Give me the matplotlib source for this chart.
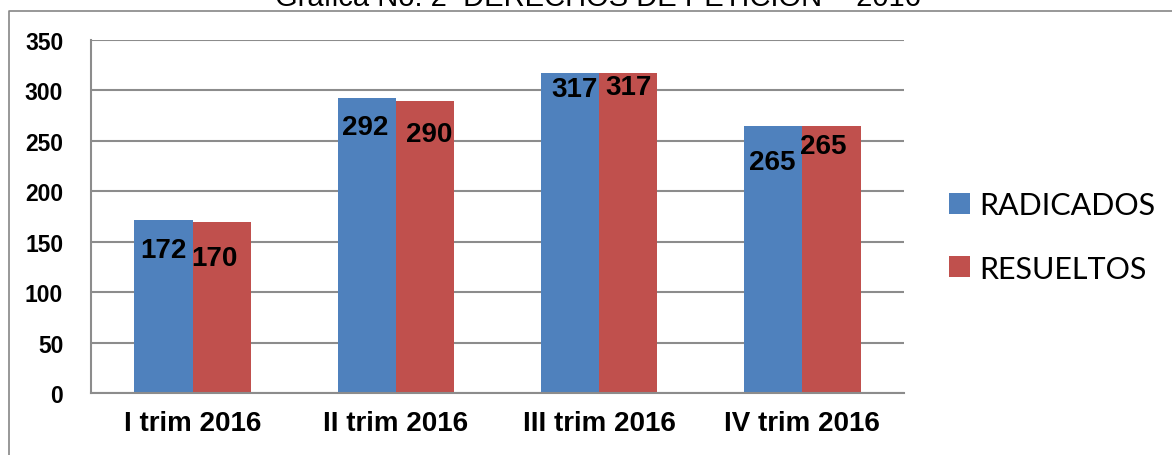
import numpy as np
import matplotlib.pyplot as plt
from matplotlib.lines import Line2D

# data
categories = ['I trim 2016', 'II trim 2016', 'III trim 2016', 'IV trim 2016']
radicados = [172, 292, 317, 265]
resueltos = [170, 290, 317, 265]
series_names = ['RADICADOS', 'RESUELTOS']
title = 'Grafica No. 2  DERECHOS DE PETICION  - 2016'

# label nudges (pixels, right / down from the bar top)
lab_dx = [[0, -7], [-2, 4], [4, 0], [-1, -8]]
lab_dy = [[30, 36], [29, 33], [16, 14], [36, 20]]

blue = '#4F81BD'
red = '#C0504D'
grid_col = '#8C8C8C'

fig = plt.figure(figsize=(11.72, 4.56), dpi=100)
W, H = 1172, 456

# outer chart frame (only top and left edges are visible)
fx, fy = 9.5 / W, 1 - 12 / H
fig.add_artist(Line2D([fx, fx, 1.0], [0.0, fy, fy], transform=fig.transFigure,
                      color='#868686', linewidth=1.2))

fig.text(598 / W, 1 - 5.5 / H, title, ha='center', va='baseline',
         fontsize=21, family='Liberation Sans')

ax = fig.add_axes([91 / W, 1 - 394 / H, (904 - 91) / W, (394 - 41) / H])

x = np.arange(len(categories))
w = 0.286
b1 = ax.bar(x - w / 2, radicados, w, color=blue, label=series_names[0])
b2 = ax.bar(x + w / 2, resueltos, w, color=red, label=series_names[1])

for j, bars in enumerate([b1, b2]):
    for i, rect in enumerate(bars):
        ax.annotate(str(int(rect.get_height())),
                    (rect.get_x() + rect.get_width() / 2, rect.get_height()),
                    xytext=(lab_dx[i][j] * 0.72, -lab_dy[i][j] * 0.72),
                    textcoords='offset points', ha='center', va='center',
                    fontsize=20, fontweight='bold', family='Liberation Sans')

ax.set_xlim(-0.5, len(categories) - 0.5)
ax.set_ylim(0, 350)
ax.set_yticks(np.arange(0, 351, 50))
ax.set_xticks(x)
ax.set_xticklabels(categories, fontsize=20, fontweight='bold',
                   family='Liberation Sans')
for lab in ax.get_yticklabels():
    lab.set_fontsize(16.5)
    lab.set_fontweight('bold')
    lab.set_family('Liberation Sans')
ax.tick_params(length=0)
ax.tick_params(axis='y', pad=20)
ax.tick_params(axis='x', pad=12)

ax.set_axisbelow(True)
ax.yaxis.grid(True, color=grid_col, linewidth=1.5)
for s in ['top', 'right']:
    ax.spines[s].set_visible(False)
for s in ['left', 'bottom']:
    ax.spines[s].set_color(grid_col)
    ax.spines[s].set_linewidth(1.5)

fig.legend(handles=[b1, b2], labels=series_names, loc='center left',
           bbox_to_anchor=(949 / W, 1 - 238 / H), frameon=False,
           prop={'family': 'Lato', 'size': 22}, borderpad=0,
           borderaxespad=0, handlelength=0.69, handleheight=0.69,
           handletextpad=0.3, labelspacing=1.15)

fig.savefig('out.png', dpi=100)
